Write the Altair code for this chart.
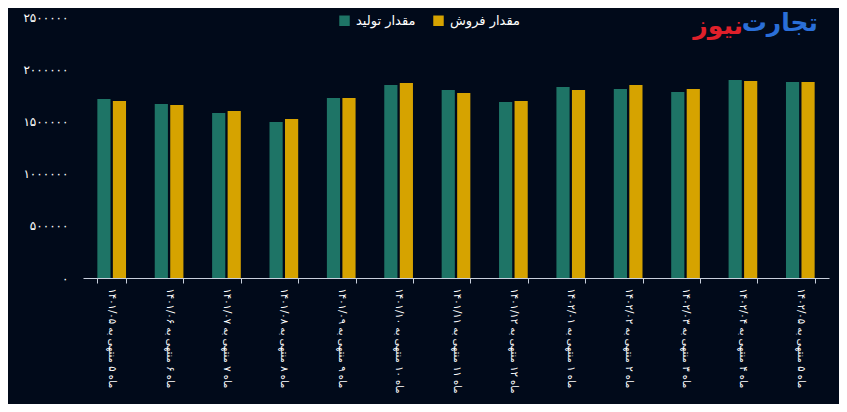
import altair as alt
import pandas as pd

periods = [
    "ماه ۵ منتهی به ۱۴۰۱/۰۵",
    "ماه ۶ منتهی به ۱۴۰۱/۰۶",
    "ماه ۷ منتهی به ۱۴۰۱/۰۷",
    "ماه ۸ منتهی به ۱۴۰۱/۰۸",
    "ماه ۹ منتهی به ۱۴۰۱/۰۹",
    "ماه ۱۰ منتهی به ۱۴۰۱/۱۰",
    "ماه ۱۱ منتهی به ۱۴۰۱/۱۱",
    "ماه ۱۲ منتهی به ۱۴۰۱/۱۲",
    "ماه ۱ منتهی به ۱۴۰۲/۰۱",
    "ماه ۲ منتهی به ۱۴۰۲/۰۲",
    "ماه ۳ منتهی به ۱۴۰۲/۰۳",
    "ماه ۴ منتهی به ۱۴۰۲/۰۴",
    "ماه ۵ منتهی به ۱۴۰۲/۰۵",
]
production = [1715000, 1667000, 1580000, 1494000, 1724000, 1849000, 1801000,
              1686000, 1830000, 1810000, 1782000, 1897000, 1877000]
sales = [1695000, 1657000, 1600000, 1523000, 1724000, 1868000, 1772000,
         1695000, 1801000, 1849000, 1810000, 1887000, 1877000]
series_names = ["مقدار تولید", "مقدار فروش"]
series_colors = ["#1e7466", "#d6a300"]
y_ticks = [0, 500000, 1000000, 1500000, 2000000, 2500000]
logo_words = ["تجارت", "نیوز"]

rows = []
for p, a, b in zip(periods, production, sales):
    rows.append({"period": p, "series": series_names[0], "value": a})
    rows.append({"period": p, "series": series_names[1], "value": b})
df = pd.DataFrame(rows)

persian = "۰۱۲۳۴۵۶۷۸۹"
expr = "format(datum.value, 'd')"
for i, ch in enumerate(persian):
    expr = f"replace({expr}, regexp('{i}', 'g'), '{ch}')"

FONT = "DejaVu Sans"

bars = alt.Chart(df).mark_bar().encode(
    x=alt.X("period:N", sort=periods,
            scale=alt.Scale(paddingInner=0.5, paddingOuter=0.25),
            axis=alt.Axis(title=None, labelAngle=90, labelAlign="left",
                          labelBaseline="middle", tickBand="extent",
                          labelColor="#ffffff", labelFontSize=10, labelFont=FONT,
                          domainColor="#c8cfdc", tickColor="#c8cfdc",
                          tickSize=5, labelPadding=5, labelLimit=300)),
    xOffset=alt.XOffset("series:N", sort=series_names,
                        scale=alt.Scale(paddingInner=0.15, paddingOuter=0)),
    y=alt.Y("value:Q", scale=alt.Scale(domain=[0, 2500000]),
            axis=alt.Axis(title=None, values=y_ticks, labelExpr=expr,
                          grid=False, domain=False, ticks=False,
                          labelColor="#ffffff", labelFontSize=12, labelFont=FONT,
                          labelPadding=15)),
    color=alt.Color("series:N",
                    scale=alt.Scale(domain=series_names, range=series_colors),
                    legend=alt.Legend(orient="none", legendX=255, legendY=-3,
                                      direction="horizontal", title=None,
                                      symbolType="square", symbolSize=110,
                                      symbolStrokeWidth=0, labelColor="#ffffff",
                                      labelFontSize=13, labelFont=FONT,
                                      columnPadding=16, labelOffset=5, padding=0)),
)

logo_df = pd.DataFrame({"word": logo_words})
logo1 = alt.Chart(logo_df).transform_filter(
    alt.datum.word == logo_words[0]
).mark_text(align="right", baseline="alphabetic", fontSize=25,
            fontWeight="bold", font=FONT, color="#2a6fd8").encode(
    x=alt.value(735), y=alt.value(14), text="word:N")
logo2 = alt.Chart(logo_df).transform_filter(
    alt.datum.word == logo_words[1]
).mark_text(align="right", baseline="alphabetic", fontSize=25,
            fontWeight="bold", font=FONT, color="#e0202a").encode(
    x=alt.value(660), y=alt.value(17), text="word:N")

chart = alt.layer(bars, logo1, logo2).properties(
    width=746, height=261,
    autosize=alt.AutoSizeParams(type="none"),
    padding={"left": 75, "top": 9, "right": 10, "bottom": 126},
    background="#010a1a",
).configure_view(stroke=None)

chart.save("out.html", embed_options={"renderer": "svg", "actions": False})
